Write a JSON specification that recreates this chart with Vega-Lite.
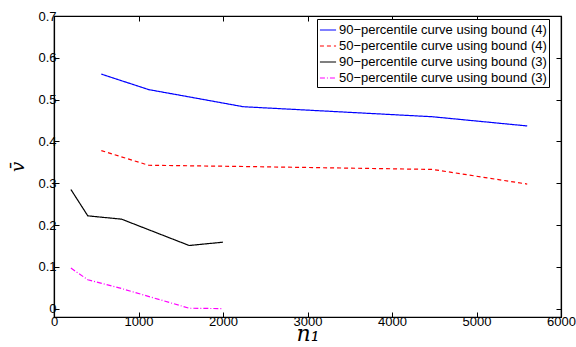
{
  "$schema": "https://vega.github.io/schema/vega-lite/v6.json",
  "width": 507,
  "height": 301,
  "autosize": {"type": "none"},
  "padding": {"left": 54, "top": 16, "right": 15, "bottom": 30},
  "background": "white",
  "config": {
    "view": {"stroke": "black", "strokeWidth": 1.2},
    "font": "Liberation Sans",
    "axis": {
      "grid": false,
      "domainColor": "black",
      "tickColor": "black",
      "labelColor": "black",
      "labelFont": "Liberation Sans",
      "labelFontSize": 13,
      "labelFlush": false,
      "labelOverlap": false,
      "tickSize": -5,
      "domainWidth": 1.2,
      "tickWidth": 1
    }
  },
  "data": {
    "values": [
      {"s": "90−percentile curve using bound (4)", "n": 560, "v": 0.561},
      {"s": "90−percentile curve using bound (4)", "n": 1120, "v": 0.524},
      {"s": "90−percentile curve using bound (4)", "n": 2240, "v": 0.483},
      {"s": "90−percentile curve using bound (4)", "n": 4480, "v": 0.459},
      {"s": "90−percentile curve using bound (4)", "n": 5600, "v": 0.437},
      {"s": "50−percentile curve using bound (4)", "n": 560, "v": 0.378},
      {"s": "50−percentile curve using bound (4)", "n": 1120, "v": 0.343},
      {"s": "50−percentile curve using bound (4)", "n": 2240, "v": 0.34},
      {"s": "50−percentile curve using bound (4)", "n": 4480, "v": 0.333},
      {"s": "50−percentile curve using bound (4)", "n": 5600, "v": 0.298},
      {"s": "90−percentile curve using bound (3)", "n": 200, "v": 0.285},
      {"s": "90−percentile curve using bound (3)", "n": 400, "v": 0.222},
      {"s": "90−percentile curve using bound (3)", "n": 800, "v": 0.214},
      {"s": "90−percentile curve using bound (3)", "n": 1600, "v": 0.151},
      {"s": "90−percentile curve using bound (3)", "n": 2000, "v": 0.159},
      {"s": "50−percentile curve using bound (3)", "n": 200, "v": 0.097},
      {"s": "50−percentile curve using bound (3)", "n": 400, "v": 0.069},
      {"s": "50−percentile curve using bound (3)", "n": 800, "v": 0.048},
      {"s": "50−percentile curve using bound (3)", "n": 1600, "v": 0.001},
      {"s": "50−percentile curve using bound (3)", "n": 2000, "v": 0.0}
    ]
  },
  "layer": [
    {
      "mark": {"type": "line", "strokeWidth": 1.2},
      "encoding": {
        "x": {
          "field": "n", "type": "quantitative",
          "scale": {"domain": [0, 6000], "nice": false, "zero": false},
          "axis": {"orient": "bottom", "values": [0, 1000, 2000, 3000, 4000, 5000, 6000], "format": "d", "title": "n₁", "titleFont": "DejaVu Serif", "titleFontStyle": "italic", "titleFontWeight": "normal", "titleFontSize": 22, "titlePadding": -5, "labelPadding": 3}
        },
        "y": {
          "field": "v", "type": "quantitative",
          "scale": {"domain": [-0.02, 0.7], "nice": false, "zero": false},
          "axis": {"orient": "left", "values": [0, 0.1, 0.2, 0.3, 0.4, 0.5, 0.6, 0.7], "format": ".1~f", "title": "v̄", "titleAngle": 270, "titleBaseline": "bottom", "titleFont": "DejaVu Serif", "titleFontStyle": "italic", "titleFontWeight": "normal", "titleFontSize": 18, "titlePadding": 10, "labelPadding": 3}
        },
        "color": {
          "field": "s", "type": "nominal",
          "scale": {
            "domain": ["90−percentile curve using bound (4)", "50−percentile curve using bound (4)", "90−percentile curve using bound (3)", "50−percentile curve using bound (3)"],
            "range": ["#0000ff", "#ff0000", "#000000", "#ff00ff"]
          },
          "legend": {
            "title": null,
            "orient": "none",
            "legendX": 263,
            "legendY": 3,
            "symbolType": "stroke",
            "symbolSize": 260,
            "symbolStrokeWidth": 1.2,
            "labelFontSize": 13,
            "labelFont": "Liberation Sans",
            "labelColor": "black",
            "labelLimit": 0,
            "labelOffset": 2,
            "rowPadding": 0,
            "padding": 2,
            "fillColor": "white",
            "strokeColor": "black"
          }
        },
        "strokeDash": {
          "field": "s", "type": "nominal",
          "scale": {
            "domain": ["90−percentile curve using bound (4)", "50−percentile curve using bound (4)", "90−percentile curve using bound (3)", "50−percentile curve using bound (3)"],
            "range": [[1, 0], [4, 3], [1, 0], [5, 2, 1, 2]]
          },
          "legend": null
        }
      }
    },
    {
      "mark": {"type": "point", "opacity": 0},
      "encoding": {
        "x": {"field": "n", "type": "quantitative", "axis": {"orient": "top", "values": [0, 1000, 2000, 3000, 4000, 5000, 6000], "labels": false, "title": null}},
        "y": {"field": "v", "type": "quantitative", "axis": {"orient": "right", "values": [0, 0.1, 0.2, 0.3, 0.4, 0.5, 0.6, 0.7], "labels": false, "title": null}}
      }
    }
  ],
  "resolve": {"axis": {"x": "independent", "y": "independent"}}
}
